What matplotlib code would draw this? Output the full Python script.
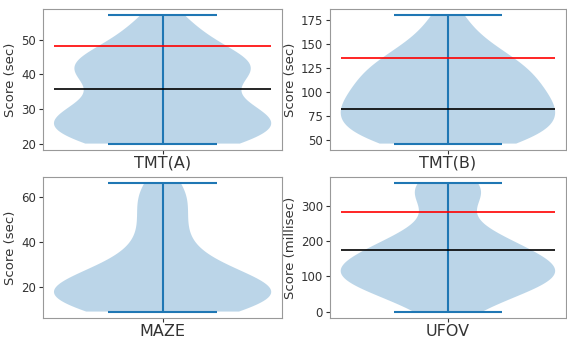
import matplotlib.pyplot as plt
import numpy as np

# test names
names = ['TMT(A)', 'TMT(B)', 'MAZE', 'UFOV']
ylabels = ['Score (sec)', 'Score (sec)', 'Score (sec)', 'Score (millisec)']

# scores (approximate samples)
tmt_a = [20, 20, 20, 21, 21, 22, 23, 24, 25, 25, 26, 26, 27, 27, 28, 28, 29, 30,
         31, 32, 33, 36, 39, 40, 40, 41, 41, 42, 42, 43, 43, 44, 45, 46, 48,
         50, 52, 54, 57]
tmt_b = [46, 47, 49, 52, 55, 58, 62, 66, 70, 73, 76, 79, 82, 85, 88, 91, 95, 99,
         103, 107, 111, 115, 119, 123, 127, 131, 136, 142, 150, 162, 180]
maze = [9, 9, 10, 11, 12, 13, 14, 15, 16, 17, 17, 18, 18, 19, 19, 20, 21, 22,
        23, 25, 27, 29, 31, 34, 39, 44, 49, 54, 59, 63, 66]
ufov = [0, 20, 40, 55, 65, 75, 82, 88, 94, 100, 104, 108, 112, 118, 124, 130,
        138, 146, 155, 165, 175, 185, 195, 205, 220, 240, 330, 340, 345, 352, 365]
samples = [tmt_a, tmt_b, maze, ufov]

# reference lines (red = cut-off, black = mean); MAZE has none
red_lines = [48.2, 135.7, None, 284.8]
black_lines = [35.7, 81.9, None, 175.0]

fig = plt.figure(figsize=(5.67, 3.39), dpi=100)
boxes = [[0.076, 0.5575, 0.4215, 0.416],
         [0.582, 0.5575, 0.416, 0.416],
         [0.076, 0.062, 0.4215, 0.416],
         [0.582, 0.062, 0.416, 0.416]]

for box, data, name, yl, r, b in zip(boxes, samples, names, ylabels,
                                     red_lines, black_lines):
    ax = fig.add_axes(box)
    ax.violinplot(data)
    if r is not None:
        ax.hlines(r, 0.75, 1.25, color='red', lw=1.2)
    if b is not None:
        ax.hlines(b, 0.75, 1.25, color='black', lw=1.2)
    ax.set_xticks([1])
    ax.set_xticklabels([name], fontsize=11.5)
    ax.set_ylabel(yl, fontsize=9.5, color='#333333', labelpad=3)
    ax.tick_params(axis='y', labelsize=8.5, colors='#333333', length=3, pad=2)
    ax.tick_params(axis='x', pad=1, length=3, colors='#333333')
    for s in ax.spines.values():
        s.set_color('#999999')
    if name == 'TMT(B)':
        ax.set_yticks([50, 75, 100, 125, 150, 175])
    elif name == 'MAZE':
        ax.set_yticks([20, 40, 60])
    elif name == 'UFOV':
        ax.set_yticks([0, 100, 200, 300])

plt.savefig('out.png')
